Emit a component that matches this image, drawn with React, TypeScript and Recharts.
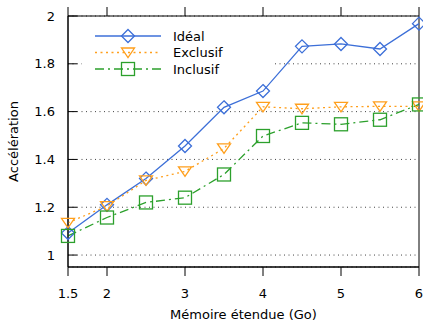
import React from "react";
import { CartesianGrid, Legend, Line, LineChart, ReferenceArea, ReferenceLine, XAxis, YAxis } from "recharts";

// memory size (Go) and measured speed-up for each cache policy
const memory = [1.5, 2, 2.5, 3, 3.5, 4, 4.5, 5, 5.5, 6];
const ideal = [1.092, 1.21, 1.32, 1.456, 1.618, 1.686, 1.873, 1.883, 1.862, 1.968];
const exclusive = [1.135, 1.205, 1.312, 1.35, 1.446, 1.62, 1.612, 1.62, 1.622, 1.622];
const inclusive = [1.08, 1.157, 1.22, 1.24, 1.337, 1.498, 1.553, 1.547, 1.566, 1.63];

const xTicks = [1.5, 2, 3, 4, 5, 6];
const yTicks = [1, 1.2, 1.4, 1.6, 1.8, 2];
const xDomain = [1.5, 6];
const yDomain = [0.95, 2];

const FONT = "'DejaVu Sans', sans-serif";

type Marker = "diamond" | "triangle" | "square";

const series: { key: string; name: string; color: string; dash?: string; marker: Marker }[] = [
  { key: "ideal", name: "Idéal", color: "#3c6fd8", marker: "diamond" },
  { key: "exclusive", name: "Exclusif", color: "#ff9f1c", dash: "2 3.5", marker: "triangle" },
  { key: "inclusive", name: "Inclusif", color: "#2ca02c", dash: "9 4 2 4", marker: "square" },
];

const data = memory.map((m, i) => ({
  m,
  ideal: ideal[i],
  exclusive: exclusive[i],
  inclusive: inclusive[i],
}));

function drawMarker(kind: Marker, cx: number, cy: number, color: string, key?: string | number) {
  const common = { fill: "none", stroke: color, strokeWidth: 1.3 };
  if (kind === "diamond") {
    const r = 6.5;
    return (
      <polygon key={key} {...common} points={`${cx},${cy - r} ${cx + r},${cy} ${cx},${cy + r} ${cx - r},${cy}`} />
    );
  }
  if (kind === "triangle") {
    return (
      <polygon
        key={key}
        {...common}
        points={`${cx - 6.5},${cy - 4.5} ${cx + 6.5},${cy - 4.5} ${cx},${cy + 5}`}
      />
    );
  }
  return <rect key={key} {...common} x={cx - 6.5} y={cy - 6.5} width={13} height={13} />;
}

const markerDot = (kind: Marker, color: string) => (props: any) => {
  const { cx, cy, index } = props;
  if (cx == null || cy == null) return <g key={index} />;
  return drawMarker(kind, cx, cy, color, index);
};

const LegendBox = () => (
  <svg width={190} height={56} style={{ display: "block" }}>
    {series.map((s, i) => {
      const y = 14 + i * 16.5;
      return (
        <g key={s.key}>
          <line x1={13} x2={79} y1={y} y2={y} stroke={s.color} strokeWidth={1.3} strokeDasharray={s.dash} />
          {drawMarker(s.marker, 46, y, s.color)}
          <text x={91} y={y} dy="0.36em" fontSize={13} fontFamily={FONT} fill="#000">
            {s.name}
          </text>
        </g>
      );
    })}
  </svg>
);

const YTick = (props: any) => {
  const { x, y, payload } = props;
  return (
    <g>
      <line x1={x + 13} x2={x + 22} y1={y} y2={y} stroke="#000" />
      <text x={x} y={y} dy="0.36em" textAnchor="end" fontSize={13} fontFamily={FONT} fill="#000">
        {payload.value === 1 || payload.value === 2 ? payload.value : payload.value.toFixed(1)}
      </text>
    </g>
  );
};

const YLabel = (props: any) => {
  const vb = props.viewBox;
  const cx = vb.x + 13;
  const cy = vb.y + vb.height / 2;
  return (
    <text
      x={cx}
      y={cy}
      transform={`rotate(-90 ${cx} ${cy})`}
      textAnchor="middle"
      dy="0.36em"
      fontSize={13}
      fontFamily={FONT}
      fill="#000"
    >
      Accélération
    </text>
  );
};

// mirrored tick above the top border (gnuplot style)
const TopTick = (props: any) => {
  const { x1, y1, y2 } = props;
  const top = Math.min(y1, y2);
  return <line x1={x1} x2={x1} y1={top} y2={top - 9} stroke="#000" />;
};

export default function App() {
  return (
    <div style={{ position: "absolute", left: 0, top: 0, background: "#fff" }}>
      <LineChart width={423} height={322} data={data} margin={{ top: 16, right: 4, bottom: 0, left: 0 }}>
        <CartesianGrid vertical={false} stroke="#444" strokeDasharray="1 3.5" />
        <XAxis
          dataKey="m"
          type="number"
          domain={xDomain}
          ticks={xTicks}
          height={55}
          tickSize={9}
          tickMargin={13}
          stroke="#000"
          tick={{ fontSize: 13, fontFamily: FONT, fill: "#000" }}
          label={{
            value: "Mémoire étendue (Go)",
            position: "insideBottom",
            offset: 3,
            fontSize: 13,
            fontFamily: FONT,
            fill: "#000",
          }}
        />
        <YAxis
          domain={yDomain}
          ticks={yTicks}
          width={68}
          tickSize={0}
          tickMargin={13}
          stroke="#000"
          tick={<YTick />}
          label={<YLabel />}
        />
        <ReferenceArea
          x1={xDomain[0]}
          x2={xDomain[1]}
          y1={yDomain[0]}
          y2={yDomain[1]}
          fill="none"
          fillOpacity={0}
          stroke="#000"
          strokeWidth={1}
        />
        {xTicks.map((t) => (
          <ReferenceLine key={t} x={t} stroke="#000" shape={<TopTick />} />
        ))}
        <Legend
          layout="vertical"
          align="center"
          verticalAlign="middle"
          content={<LegendBox />}
          wrapperStyle={{ left: 82, top: 22, width: 190, height: 56, background: "#fff" }}
        />
        {series.map((s) => (
          <Line
            key={s.key}
            dataKey={s.key}
            name={s.name}
            type="linear"
            stroke={s.color}
            strokeWidth={1.3}
            strokeDasharray={s.dash}
            dot={markerDot(s.marker, s.color)}
            activeDot={false}
            isAnimationActive={false}
          />
        ))}
      </LineChart>
    </div>
  );
}
